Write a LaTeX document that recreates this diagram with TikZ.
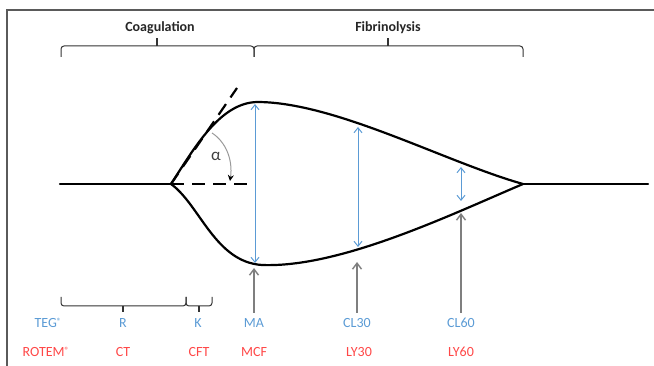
\documentclass[tikz,border=0pt]{standalone}
\usepackage{fontspec}
\setmainfont{Carlito}
\usetikzlibrary{arrows.meta}
\definecolor{tegblue}{HTML}{5B9BD5}
\definecolor{rotemred}{HTML}{FF4747}
\definecolor{arrgray}{HTML}{7F7F7F}
\definecolor{framegray}{HTML}{5A5A5A}
\begin{document}
\begin{tikzpicture}[x=1pt,y=-1pt,
  curve/.style={line width=2.2pt,black,line cap=round},
  dashline/.style={line width=2.2pt,black,dash pattern=on 13pt off 8pt},
  measure/.style={tegblue,line width=1pt,{Straight Barb[length=5pt,width=8pt]}-{Straight Barb[length=5pt,width=8pt]}},
  pointer/.style={arrgray,line width=1.4pt,-{Straight Barb[length=6pt,width=9pt]}},
  bracestyle/.style={black!80,line width=1pt,rounded corners=3pt},
  toptitle/.style={font=\fontsize{14}{16}\selectfont\bfseries,text=black!85},
  teg/.style={font=\fontsize{14}{16}\selectfont,text=tegblue},
  rotem/.style={font=\fontsize{14}{16}\selectfont,text=rotemred}]
\useasboundingbox (0,0) rectangle (654,366);
% frame (top and left edges)
\draw[framegray,line width=1.5pt] (7,366) -- (7,10) -- (654,10);
% top braces
\draw[bracestyle] (61,57) -- (61,46) -- (254,46) -- (254,57);
\draw[bracestyle] (254,57) -- (254,46) -- (523,46) -- (523,57);
\draw[black!80,line width=1.2pt] (157,46) -- (157,38);
\draw[black!80,line width=1.2pt] (388,46) -- (388,38);
\node[toptitle] (coag) at (160,28) {Coagulation};
\node[toptitle] (fibr) at (388,28) {Fibrinolysis};
% key points
\coordinate (split) at (171,184);
\coordinate (join) at (523,184);
\coordinate (peak) at (257,102);
\coordinate (bottom) at (262,265);
% baseline
\draw[curve] (60,184) -- (split);
\draw[curve] (join) -- (648,184);
% upper curve
\draw[curve] (split) .. controls (195,147) and (220,103) .. (peak)
  .. controls (335,102) and (445,162) .. (join);
% lower curve
\draw[curve] (split) .. controls (200,205) and (215,262) .. (bottom)
  .. controls (340,268) and (450,215) .. (join);
% tangent and horizontal dashed lines
\coordinate (tanend) at (237,88);
\coordinate (horend) at (249,184);
\draw[dashline] (split) -- (tanend);
\draw[dashline] (split) -- (horend);
% angle arc
\coordinate (arcA) at (212,133);
\coordinate (arcB) at (230,181);
\draw[black!40,line width=1pt,-{Stealth[length=6pt,width=6pt,black]}] (arcA) .. controls (226,142) and (233,160) .. (arcB);
\node[font=\fontsize{17}{19}\selectfont,text=black!75] (alpha) at (216,156) {α};
% blue measurement arrows
\coordinate (maT) at (255,104);  \coordinate (maB) at (255,263);
\coordinate (c30T) at (358,127); \coordinate (c30B) at (358,247);
\coordinate (c60T) at (461,167); \coordinate (c60B) at (461,201);
\draw[measure] (maB) -- (maT);
\draw[measure] (c30B) -- (c30T);
\draw[measure] (c60B) -- (c60T);
% bottom brackets
\draw[bracestyle] (61,297) -- (61,306) -- (186,306) -- (186,297);
\draw[bracestyle] (186,297) -- (186,306) -- (212,306) -- (212,297);
\draw[black!80,line width=1.2pt] (123,306) -- (123,312);
\draw[black!80,line width=1.2pt] (199,306) -- (199,312);
% labels
\node[teg] (teg) at (48,323) {TEG\raisebox{3pt}{\fontsize{9}{9}\selectfont ®}};
\node[teg] (r) at (123,323) {R};
\node[teg] (k) at (198,323) {K};
\node[teg] (ma) at (254,323) {MA};
\node[teg] (cl30) at (357,323) {CL30};
\node[teg] (cl60) at (461,323) {CL60};
\node[rotem] (rotem) at (46,352) {ROTEM\raisebox{3pt}{\fontsize{9}{9}\selectfont ®}};
\node[rotem] (ct) at (123,352) {CT};
\node[rotem] (cft) at (199,352) {CFT};
\node[rotem] (mcf) at (254,352) {MCF};
\node[rotem] (ly30) at (359,352) {LY30};
\node[rotem] (ly60) at (461,352) {LY60};
% gray pointers
\coordinate (maP) at (254,268);
\coordinate (c30P) at (357,262);
\coordinate (c60P) at (461,213);
\draw[pointer] (ma.north) ++(0,-2) -- (maP);
\draw[pointer] (cl30.north) ++(0,-2) -- (c30P);
\draw[pointer] (cl60.north) ++(0,-2) -- (c60P);
\end{tikzpicture}
\end{document}
